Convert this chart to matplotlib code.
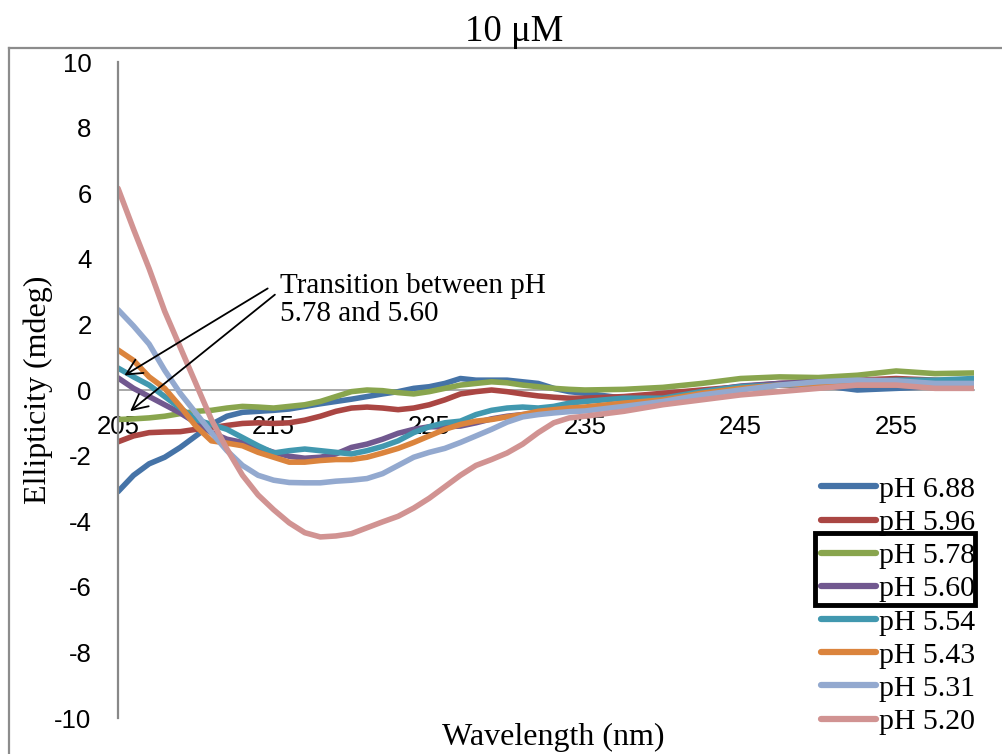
"""
CD spectra of the 10 uM sample at different pH values.
"""

import matplotlib
matplotlib.use("Agg")
import matplotlib.pyplot as plt
from matplotlib.lines import Line2D
from matplotlib.patches import Rectangle

plt.rcParams["axes.unicode_minus"] = False

# wavelengths (nm)
wavelengths = [205, 206, 207, 208, 209, 210, 211, 212, 213, 214, 215, 216, 217, 218,
               219, 220, 221, 222, 223, 224, 225, 226, 227, 228, 229, 230, 231, 232,
               233, 234, 235, 237.5, 240, 242.5, 245, 247.5, 250, 252.5, 255, 257.5, 260]

# ellipticity (mdeg)
ph_688 = [-3.1, -2.6, -2.25, -2.05, -1.75, -1.4, -1.05, -0.8, -0.68, -0.65, -0.62, -0.58,
          -0.5, -0.42, -0.35, -0.28, -0.2, -0.12, -0.05, 0.05, 0.1, 0.2, 0.35, 0.3, 0.3,
          0.3, 0.25, 0.2, 0.05, -0.05, -0.1, -0.25, -0.2, -0.05, 0.05, 0.15, 0.15, 0.0,
          0.05, 0.1, 0.2]
ph_596 = [-1.58, -1.4, -1.3, -1.28, -1.27, -1.2, -1.15, -1.08, -1.02, -1.0, -1.02, -1.0,
          -0.92, -0.8, -0.65, -0.55, -0.52, -0.55, -0.6, -0.55, -0.45, -0.3, -0.12, -0.05,
          0.0, -0.05, -0.12, -0.18, -0.22, -0.25, -0.25, -0.2, -0.1, 0.0, 0.1, 0.2, 0.25,
          0.3, 0.35, 0.3, 0.25]
ph_578 = [-0.9, -0.88, -0.85, -0.8, -0.72, -0.65, -0.62, -0.55, -0.5, -0.52, -0.55, -0.5,
          -0.45, -0.35, -0.2, -0.05, 0.0, -0.02, -0.08, -0.12, -0.05, 0.05, 0.15, 0.2,
          0.25, 0.22, 0.15, 0.1, 0.05, 0.02, 0.0, 0.02, 0.08, 0.2, 0.35, 0.4, 0.38, 0.45,
          0.58, 0.5, 0.52]
ph_560 = [0.37, 0.05, -0.2, -0.45, -0.7, -1.0, -1.3, -1.5, -1.6, -1.75, -1.9, -2.02,
          -2.08, -2.05, -1.95, -1.75, -1.65, -1.5, -1.32, -1.2, -1.12, -1.12, -1.1, -1.0,
          -0.88, -0.8, -0.75, -0.7, -0.65, -0.58, -0.55, -0.45, -0.3, -0.05, 0.12, 0.2,
          0.25, 0.25, 0.22, 0.25, 0.25]
ph_554 = [0.67, 0.4, 0.15, -0.2, -0.55, -0.9, -1.05, -1.2, -1.45, -1.7, -1.92, -1.85,
          -1.8, -1.85, -1.9, -1.95, -1.85, -1.72, -1.55, -1.3, -1.12, -1.0, -0.95, -0.75,
          -0.62, -0.55, -0.52, -0.55, -0.5, -0.4, -0.35, -0.25, -0.25, -0.05, 0.1, 0.15,
          0.2, 0.25, 0.3, 0.3, 0.35]
ph_543 = [1.22, 0.9, 0.4, 0.05, -0.5, -1.1, -1.55, -1.62, -1.7, -1.9, -2.05, -2.2, -2.2,
          -2.15, -2.12, -2.12, -2.05, -1.92, -1.78, -1.6, -1.4, -1.2, -1.05, -0.95, -0.9,
          -0.82, -0.75, -0.65, -0.6, -0.55, -0.52, -0.4, -0.3, -0.1, 0.05, 0.15, 0.2,
          0.15, 0.15, 0.1, 0.15]
ph_531 = [2.45, 1.95, 1.4, 0.6, -0.1, -0.7, -1.3, -1.85, -2.3, -2.6, -2.75, -2.82, -2.83,
          -2.83, -2.78, -2.75, -2.7, -2.55, -2.3, -2.05, -1.9, -1.78, -1.6, -1.4, -1.2,
          -0.98, -0.82, -0.75, -0.7, -0.66, -0.64, -0.5, -0.35, -0.15, 0.0, 0.15, 0.25,
          0.3, 0.28, 0.2, 0.2]
ph_520 = [6.15, 4.9, 3.7, 2.4, 1.3, 0.2, -0.9, -1.8, -2.6, -3.2, -3.65, -4.05, -4.35,
          -4.48, -4.45, -4.38, -4.2, -4.02, -3.85, -3.6, -3.3, -2.95, -2.6, -2.3, -2.12,
          -1.92, -1.65, -1.3, -1.0, -0.85, -0.8, -0.65, -0.45, -0.3, -0.15, -0.05, 0.05,
          0.15, 0.15, 0.05, 0.05]

labels = ["pH 6.88", "pH 5.96", "pH 5.78", "pH 5.60",
          "pH 5.54", "pH 5.43", "pH 5.31", "pH 5.20"]
series = [ph_688, ph_596, ph_578, ph_560, ph_554, ph_543, ph_531, ph_520]
colors = ["#4573A7", "#AA4643", "#89A54E", "#71588F",
          "#4198AF", "#DB843D", "#93A9CF", "#D19392"]

serif = ["Liberation Serif", "DejaVu Serif"]
sans = ["Liberation Sans", "DejaVu Sans"]

fig = plt.figure(figsize=(10.02, 7.54), dpi=100)
ax = fig.add_axes([118 / 1002, 36 / 754, (974 - 118) / 1002, (718 - 62) / 754])

for vals, lab, col in zip(series, labels, colors):
    ax.plot(wavelengths, vals, color=col, lw=4.0, label=lab, solid_capstyle="round")

ax.set_xlim(205, 260)
ax.set_ylim(-10, 10)
ax.set_xticks([205, 215, 225, 235, 245, 255])
ax.set_yticks(range(-10, 11, 2))

for s in ["top", "right"]:
    ax.spines[s].set_visible(False)
ax.spines["left"].set_color("#888888")
ax.spines["left"].set_linewidth(1.6)
ax.spines["bottom"].set_position(("data", 0))
ax.spines["bottom"].set_color("#999999")
ax.spines["bottom"].set_linewidth(1.2)
ax.spines["bottom"].set_zorder(0)
ax.tick_params(axis="both", length=0, labelsize=18.5)
ax.tick_params(axis="x", pad=18)
ax.tick_params(axis="y", pad=19)
for t in ax.get_xticklabels() + ax.get_yticklabels():
    t.set_family(sans)

fig.text(38 / 1002, 1 - 390 / 754, "Ellipticity (mdeg)", family=serif, fontsize=23,
         rotation=90, ha="center", va="center")
fig.text(0.552, 0.022, "Wavelength (nm)", family=serif, fontsize=23,
         ha="center", va="center")
fig.text(0.513, 0.958, "10 μM", family=serif, fontsize=26.5, ha="center", va="center")

# annotation with two arrows
ax.text(215.4, 3.57, "Transition between pH\n5.78 and 5.60", family=serif,
        fontsize=21, va="top", ha="left", linespacing=1.1)
ax.annotate("", xy=(205.26, 0.40), xytext=(214.77, 3.14),
            arrowprops=dict(arrowstyle="->", color="black", lw=1.3, mutation_scale=28))
ax.annotate("", xy=(205.64, -0.70), xytext=(215.22, 2.96),
            arrowprops=dict(arrowstyle="->", color="black", lw=1.3, mutation_scale=28))

leg = ax.legend(loc="upper left", bbox_to_anchor=(821 / 1002, 1 - 476 / 754),
                bbox_transform=fig.transFigure, frameon=False,
                prop={"family": serif, "size": 21.5}, handlelength=1.85,
                handletextpad=0.1, labelspacing=0.21, borderpad=0, borderaxespad=0)
for h in leg.get_lines():
    h.set_linewidth(4.5)

# black box around the pH 5.78 / 5.60 entries
fig.add_artist(Rectangle((815 / 1002, 1 - 605 / 754), 160 / 1002, 72 / 754,
                         transform=fig.transFigure, fill=False, ec="black", lw=3.5))

# chart frame (cropped)
fig.add_artist(Line2D([9 / 1002, 9 / 1002], [0, 1 - 48 / 754], transform=fig.transFigure,
                      color="#8c8c8c", lw=1.6))
fig.add_artist(Line2D([9 / 1002, 1], [1 - 48 / 754, 1 - 48 / 754],
                      transform=fig.transFigure, color="#8c8c8c", lw=1.6))

fig.savefig("out.png", dpi=100)
